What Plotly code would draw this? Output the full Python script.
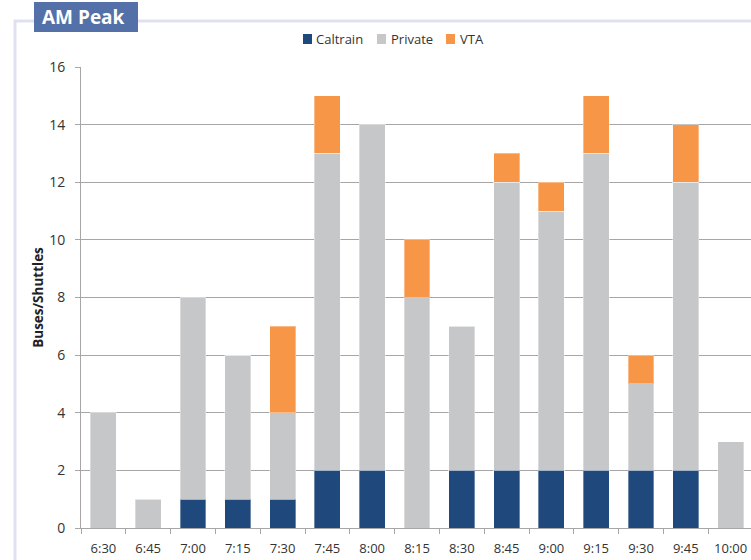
import plotly.graph_objects as go

times = ["6:30", "6:45", "7:00", "7:15", "7:30", "7:45", "8:00", "8:15",
         "8:30", "8:45", "9:00", "9:15", "9:30", "9:45", "10:00"]
caltrain = [0, 0, 1, 1, 1, 2, 2, 0, 2, 2, 2, 2, 2, 2, 0]
private = [4, 1, 7, 5, 3, 11, 12, 8, 5, 10, 9, 11, 3, 10, 3]
vta = [0, 0, 0, 0, 3, 2, 0, 2, 0, 1, 1, 2, 1, 2, 0]

W, H = 751, 560
ML, MT, MB = 81, 67, 32
PW, PH = W - ML, H - MT - MB


def px(x):
    return (x - ML) / PW


def py(y):
    return (H - MB - y) / PH


fig = go.Figure()
series = [("Caltrain", caltrain, "#1f487c"),
          ("Private", private, "#c6c7c9"),
          ("VTA", vta, "#f79646")]
for name, vals, col in series:
    fig.add_trace(go.Bar(
        x=times, y=vals, name=name, showlegend=False,
        marker=dict(color=col, line=dict(color="rgba(255,255,255,0.35)", width=1)),
    ))

# compact legend: swatch + label
legend_pos = [(303, 314), (377, 389), (446, 458)]
for (name, _, col), (sx, tx) in zip(series, legend_pos):
    fig.add_shape(type="rect", xref="paper", yref="paper",
                  x0=px(sx), x1=px(sx + 9), y0=py(44), y1=py(34),
                  line=dict(width=0), fillcolor=col)
    fig.add_annotation(text=name, xref="paper", yref="paper",
                       x=px(tx), y=py(39), xanchor="left", yanchor="middle",
                       showarrow=False, font=dict(family="Open Sans", size=13, color="#333333"))

# outer frame and header badge
fig.add_shape(type="rect", xref="paper", yref="paper",
              x0=px(15), x1=px(W + 20), y0=py(H + 20), y1=py(21),
              line=dict(color="#dfe1f1", width=3), fillcolor="rgba(0,0,0,0)", layer="below")
fig.add_shape(type="rect", xref="paper", yref="paper",
              x0=px(34), x1=px(138), y0=py(32), y1=py(2),
              line=dict(width=0), fillcolor="#5370a9", layer="above")
fig.add_annotation(text="<b>AM Peak</b>", xref="paper", yref="paper",
                   x=px(40), y=py(17), xanchor="left", yanchor="middle",
                   showarrow=False, font=dict(family="Open Sans", size=19, color="white"))

fig.update_layout(
    width=W, height=H,
    margin=dict(l=ML, r=0, t=MT, b=MB),
    barmode="stack", bargap=0.42,
    paper_bgcolor="white", plot_bgcolor="white",
    font=dict(family="Open Sans", size=12, color="#333333"),
    showlegend=False,
    xaxis=dict(type="category", range=[-0.5, 14.5 - 2 / 44.8], showline=True,
               linecolor="#a6a6a6", linewidth=1, ticks="outside", tickson="boundaries",
               ticklen=5, tickcolor="#a6a6a6", showgrid=False, ticklabelstandoff=8,
               tickfont=dict(size=13, color="#333333")),
    yaxis=dict(range=[0, 16], dtick=2, showline=True, linecolor="#a6a6a6", linewidth=1,
               ticks="outside", ticklen=5, tickcolor="#a6a6a6", showgrid=True,
               gridcolor="#a6a6a6", gridwidth=1, zeroline=False, ticklabelstandoff=7,
               tickfont=dict(size=14, color="#333333"),
               title=dict(text="<b>Buses/Shuttles</b>", font=dict(size=13.5, color="#222222"),
                          standoff=2)),
)

fig.write_html("out.html")
